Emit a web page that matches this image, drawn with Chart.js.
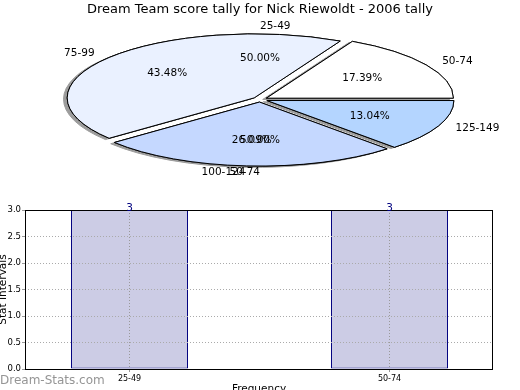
<!DOCTYPE html>
<html>
<head>
<meta charset="utf-8">
<title>Dream Team score tally</title>
<script src="https://cdn.jsdelivr.net/npm/chart.js@4.4.1/dist/chart.umd.min.js"></script>
<style>
  html, body { margin: 0; padding: 0; background: #fff; overflow: hidden; }
  #wrap { position: relative; width: 520px; height: 390px; overflow: hidden; }
  canvas { position: absolute; left: 0; }
  #pieCanvas, #freqPieCanvas { top: 0; }
  #barCanvas { top: 195px; }
  #credit { position: absolute; left: 0; top: 373px; font: 12px "DejaVu Sans"; color: #959595; white-space: nowrap; }
</style>
</head>
<body>
<div id="wrap">
  <canvas id="pieCanvas" width="520" height="195"></canvas>
  <canvas id="freqPieCanvas" width="520" height="195"></canvas>
  <canvas id="barCanvas" width="520" height="210"></canvas>
  <div id="credit">Dream-Stats.com</div>
</div>
<script>
// score tally (pie)
const tallyLabels = ['50-74', '75-99', '100-124', '125-149'];
const tallyCounts = [4, 10, 6, 3];

// frequency of stat intervals (bars, also the pie drawn underneath)
const freqLabels = ['25-49', '50-74'];
const freqValues = [3, 3];

const tallyColors = ['#ffffff', 'rgb(234,241,255)', 'rgb(197,216,255)', 'rgb(180,213,255)'];

const PIE_RADIUS = 187;   // horizontal radius, px
const TILT = 64 / 187;    // vertical squash of the pie
const EXPLODE = 0.04;     // fraction of radius
const LABEL_FONT = '10.5px "DejaVu Sans"';

Chart.defaults.font.family = '"DejaVu Sans", sans-serif';
Chart.defaults.color = '#000';

// draws the pie as a flattened, slightly exploded ellipse with a drop shadow
const ellipsePie = {
    id: 'ellipsePie',
    beforeDatasetDraw(chart, args) {
        const ctx = chart.ctx;
        const arcs = args.meta.data;
        const base = ctx.getTransform();

        function drawArcs() {
            arcs.forEach(arc => {
                const mid = (arc.startAngle + arc.endAngle) / 2;
                const shift = EXPLODE * arc.outerRadius;
                ctx.save();
                ctx.translate(arc.x, arc.y);
                ctx.scale(1, -TILT);
                ctx.translate(-arc.x + Math.cos(mid) * shift, -arc.y + Math.sin(mid) * shift);
                // keep the outline 1px all round the ellipse
                const stroke = ctx.stroke;
                ctx.stroke = function () {
                    this.save();
                    this.setTransform(base);
                    stroke.call(this);
                    this.restore();
                };
                arc.draw(ctx);
                delete ctx.stroke;
                ctx.restore();
            });
        }

        ctx.save();
        ctx.shadowColor = '#9c9c9c';
        ctx.shadowBlur = 0;
        ctx.shadowOffsetX = -3.7;
        ctx.shadowOffsetY = 1.3;
        drawArcs();
        ctx.restore();
        drawArcs();
        return false;
    },
    afterDraw(chart) {
        const ctx = chart.ctx;
        const meta = chart.getDatasetMeta(0);
        const values = chart.data.datasets[0].data;
        const total = values.reduce((a, b) => a + b, 0);
        ctx.save();
        ctx.font = LABEL_FONT;
        ctx.fillStyle = '#000';
        ctx.textBaseline = 'middle';
        meta.data.forEach((arc, i) => {
            const mid = (arc.startAngle + arc.endAngle) / 2;
            const shift = EXPLODE * arc.outerRadius;
            const c = Math.cos(mid), s = Math.sin(mid);
            const d1 = shift + 1.1 * arc.outerRadius;
            ctx.textAlign = c > 0 ? 'left' : 'right';
            ctx.fillText(chart.data.labels[i], arc.x + c * d1, arc.y - s * d1 * TILT);
            const d2 = shift + 0.6 * arc.outerRadius;
            ctx.textAlign = 'center';
            ctx.fillText((values[i] / total * 100).toFixed(2) + '%', arc.x + c * d2, arc.y - s * d2 * TILT);
        });
        ctx.restore();
    }
};

// pie drawn first, covered by the tally pie; only its labels show
new Chart(document.getElementById('freqPieCanvas'), {
    type: 'pie',
    data: {
        labels: freqLabels,
        datasets: [{
            data: freqValues,
            backgroundColor: 'rgba(0,0,0,0)',
            borderWidth: 0
        }]
    },
    options: {
        responsive: false,
        animation: false,
        events: [],
        rotation: 90,
        radius: PIE_RADIUS,
        layout: { padding: { top: 4, bottom: 0 } },
        plugins: { legend: { display: false }, tooltip: { enabled: false } }
    },
    plugins: [ellipsePie]
});

new Chart(document.getElementById('pieCanvas'), {
    type: 'pie',
    data: {
        labels: tallyLabels,
        datasets: [{
            data: tallyCounts,
            backgroundColor: tallyColors,
            borderColor: '#000',
            borderWidth: 1
        }]
    },
    options: {
        responsive: false,
        animation: false,
        events: [],
        rotation: 90,
        radius: PIE_RADIUS,
        layout: { padding: { top: 0, bottom: 13.6 } },
        plugins: {
            legend: { display: false },
            tooltip: { enabled: false },
            title: {
                display: true,
                text: 'Dream Team score tally for Nick Riewoldt - 2006 tally',
                font: { size: 13, weight: 'normal' },
                color: '#000',
                padding: { top: 2, bottom: 0 }
            }
        }
    },
    plugins: [ellipsePie]
});

// frame round the plot and the value above each bar
const barExtras = {
    id: 'barExtras',
    afterDraw(chart) {
        const ctx = chart.ctx;
        const area = chart.chartArea;
        ctx.save();
        ctx.strokeStyle = '#000';
        ctx.lineWidth = 1;
        ctx.strokeRect(area.left + 0.5, area.top + 0.5, area.width - 1, area.height);
        ctx.font = LABEL_FONT;
        ctx.fillStyle = '#000080';
        ctx.textAlign = 'center';
        ctx.textBaseline = 'alphabetic';
        chart.getDatasetMeta(0).data.forEach((bar, i) => {
            ctx.fillText(String(freqValues[i]), bar.x, bar.y + 1);
        });
        ctx.restore();
    }
};

new Chart(document.getElementById('barCanvas'), {
    type: 'bar',
    data: {
        datasets: [{
            data: freqValues.map((v, i) => ({ x: i, y: v })),
            backgroundColor: 'rgb(204,204,229)',
            borderColor: '#00007f',
            borderWidth: 1,
            borderSkipped: false,
            barPercentage: 0.45,
            categoryPercentage: 1
        }]
    },
    options: {
        responsive: false,
        animation: false,
        events: [],
        layout: { padding: { top: 15, right: 27, left: 0, bottom: 0 } },
        plugins: { legend: { display: false }, tooltip: { enabled: false } },
        scales: {
            x: {
                type: 'linear',
                min: -0.402,
                max: 1.398,
                offset: false,
                grid: { z: 1, offset: false, color: '#999', tickLength: 3, tickColor: '#999' },
                border: { display: false, dash: [1, 2] },
                ticks: {
                    font: { size: 8 }, color: '#000', padding: 2,
                    callback: v => freqLabels[v]
                },
                afterBuildTicks: scale => {
                    scale.ticks = freqLabels.map((l, i) => ({ value: i }));
                },
                title: {
                    display: true, text: 'Frequency',
                    font: { size: 10.5 }, color: '#000',
                    padding: { top: 0, bottom: 9.7 }
                },
                afterFit: scale => { scale.height = 36; }
            },
            y: {
                min: 0,
                max: 3,
                grid: { z: 1, color: '#aaa', tickLength: 3, tickColor: '#999' },
                border: { display: false, dash: [1, 2] },
                ticks: {
                    stepSize: 0.5,
                    font: { size: 8.5 }, color: '#000', padding: 1,
                    callback: v => Number(v).toFixed(1)
                },
                title: {
                    display: true, text: 'Stat Intervals',
                    font: { size: 10.5 }, color: '#000',
                    padding: { top: -3, bottom: 0 }
                },
                afterFit: scale => { scale.width = 25; }
            }
        }
    },
    plugins: [barExtras]
});
</script>
</body>
</html>
